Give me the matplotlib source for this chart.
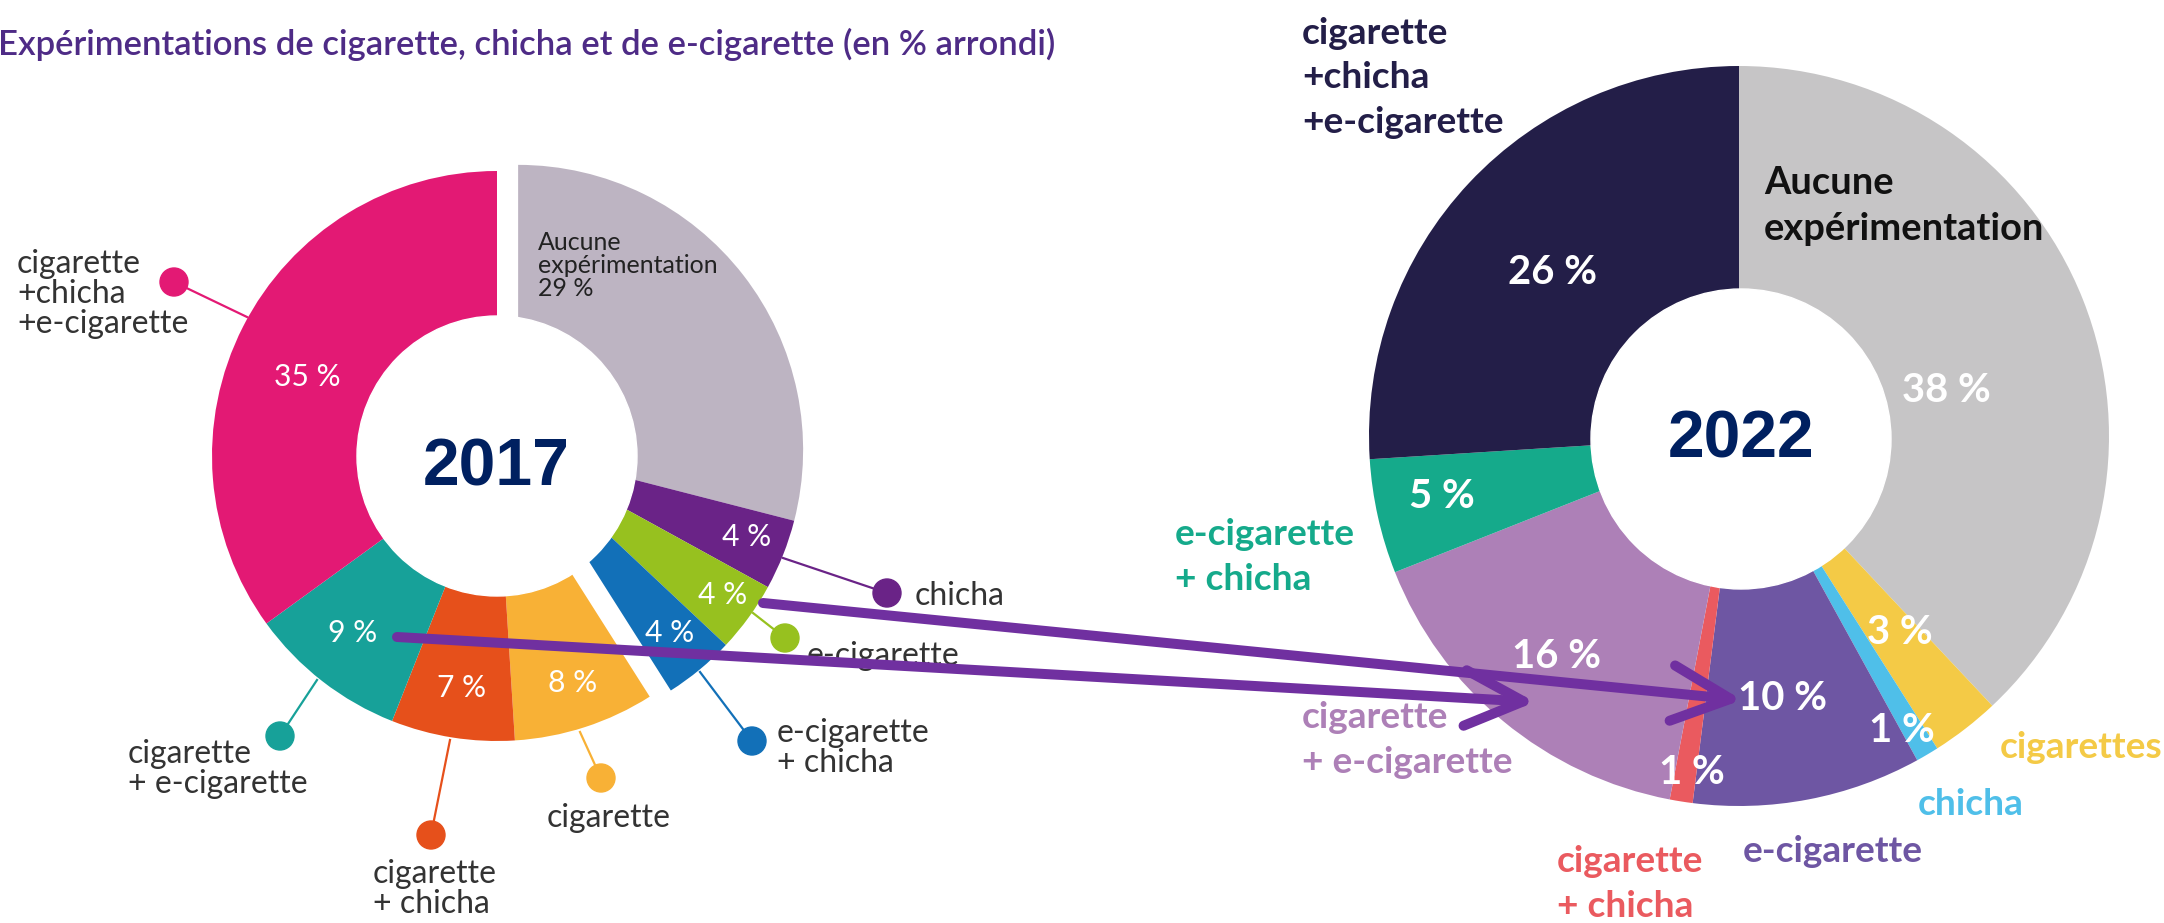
import numpy as np
import matplotlib.pyplot as plt
from matplotlib.patches import Circle, FancyArrowPatch, ArrowStyle

W, H = 2164, 923

# --- données 2017 (sens horaire depuis midi) ---
labels_2017 = ["Aucune\nexpérimentation", "chicha", "e-cigarette", "e-cigarette\n+ chicha",
               "cigarette", "cigarette\n+ chicha", "cigarette\n+ e-cigarette",
               "cigarette\n+chicha\n+e-cigarette"]
vals_2017 = [29, 4, 4, 4, 8, 7, 9, 35]
colors_2017 = ["#bdb4c2", "#6a2387", "#97c11f", "#1270b8",
               "#f8b136", "#e6501b", "#17a199", "#e31974"]

# --- données 2022 ---
labels_2022 = ["Aucune\nexpérimentation", "cigarettes", "chicha", "e-cigarette",
               "cigarette\n+ chicha", "cigarette\n+ e-cigarette", "e-cigarette\n+ chicha",
               "cigarette\n+chicha\n+e-cigarette"]
vals_2022 = [38, 3, 1, 10, 1, 16, 5, 26]
colors_2022 = ["#c6c5c6", "#f4ca46", "#4fbfe9", "#6e56a3",
               "#ea5a5f", "#ad80b7", "#15aa8b", "#231e48"]

title = "Expérimentations de cigarette, chicha et de e-cigarette (en % arrondi)"

F17 = ["Lato", "DejaVu Sans"]
F22 = ["Lato", "DejaVu Sans"]
FYEAR = ["Liberation Sans", "DejaVu Sans"]


def P(x, y):
    # coordonnées image (y vers le bas) -> données
    return (x, H - y)


def pt(px):
    return px * 0.72


# positions (image) -- mise en page ; y des libellés = ligne de base de la dernière ligne
c17, R17, r17 = (497, 456), 285, 140
c22, R22 = (1739, 436), 370
h22, r22 = (1741, 439), 150

pct_pos_2017 = [None, (747, 537), (723, 595), (670, 633), (573, 683),
                (462, 688), (353, 633), (307, 377)]
lead_2017 = [None, ((783, 558), (887, 593)), ((753, 613), (785, 638)),
             ((700, 672), (752, 741)), ((580, 732), (601, 778)),
             ((450, 740), (431, 835)), ((317, 680), (280, 736)),
             ((247, 317), (174, 282))]
lab_pos_2017 = [(538, 296, "left"), (915, 605, "left"), (807, 665, "left"),
                (777, 772, "left"), (609, 827, "center"), (373, 913, "left"),
                (128, 793, "left"), (17, 333, "left")]

pct_pos_2022 = [(1946, 391), (1900, 633), (1902, 730), (1782, 698),
                (1692, 772), (1557, 657), (1442, 497), (1553, 272)]
lab_pos_2022 = [(1764, 240), (2000, 758), (1918, 815), (1743, 862),
                (1557, 917), (1302, 773), (1175, 590), (1302, 133)]

fig = plt.figure(figsize=(W / 100, H / 100), dpi=100)
ax = fig.add_axes([0, 0, 1, 1])

# --- donut 2017 ---
w17, _ = ax.pie(vals_2017, colors=colors_2017, radius=R17, center=P(*c17),
                startangle=90, counterclock=False, wedgeprops=dict(linewidth=0))
grp = 4  # groupe "aucune / chicha / e-cig / e-cig+chicha" détaché
frac = sum(vals_2017[:grp]) / sum(vals_2017)
mid = np.deg2rad(90 - 360 * frac / 2)
for w in w17[:grp]:
    cx, cy = w.center
    w.set_center((cx + 22 * np.cos(mid), cy + 22 * np.sin(mid)))
ax.add_patch(Circle(P(*c17), r17, color="white", zorder=3))

for i, v in enumerate(vals_2017):
    x, y, ha = lab_pos_2017[i]
    if i == 0:
        ax.text(*P(x, y), labels_2017[i] + f"\n{v} %", ha="left", va="baseline",
                fontsize=pt(25), color="#222222", family=F17, linespacing=1.0, zorder=5)
        continue
    (x1, y1), (x2, y2) = lead_2017[i]
    ax.plot([x1, x2], [H - y1, H - y2], color=colors_2017[i], lw=1.6, zorder=4)
    ax.add_patch(Circle(P(x2, y2), 14, color=colors_2017[i], zorder=4))
    ax.text(*P(x, y), labels_2017[i], ha=ha, va="baseline", fontsize=pt(32),
            color="#333333", family=F17, linespacing=1.0, zorder=5)
    ax.text(*P(*pct_pos_2017[i]), f"{v} %", ha="center", va="center",
            fontsize=pt(30), color="white", family=F17, zorder=5)

ax.text(*P(496, 468), "2017", ha="center", va="center", fontsize=pt(66),
        fontweight="bold", color="#002060", family=FYEAR, zorder=6)

# --- donut 2022 ---
ax.pie(vals_2022, colors=colors_2022, radius=R22, center=P(*c22),
       startangle=90, counterclock=False, wedgeprops=dict(linewidth=0))
ax.add_patch(Circle(P(*h22), r22, color="white", zorder=3))

for i, v in enumerate(vals_2022):
    x, y = lab_pos_2022[i]
    col = "#111111" if i == 0 else colors_2022[i]
    size = 38 if i == 0 else 37
    ax.text(*P(x, y), labels_2022[i], ha="left", va="baseline", fontsize=pt(size),
            fontweight="bold", color=col, family=F22, linespacing=1.43, zorder=5)
    ax.text(*P(*pct_pos_2022[i]), f"{v} %", ha="center", va="center",
            fontsize=pt(40), fontweight="bold", color="white", family=F22, zorder=5)

ax.text(*P(1741, 440), "2022", ha="center", va="center", fontsize=pt(66),
        fontweight="bold", color="#002060", family=FYEAR, zorder=6)

# --- titre ---
ax.text(*P(-2, 44), title, ha="left", va="center", fontsize=pt(34.7),
        fontweight="semibold", color="#4e2b86", family=F17, zorder=5)

# --- flèches ---
arrows = [((763, 603), (1742, 700)), ((397, 637), (1535, 702))]
for (a, b) in arrows:
    ax.add_patch(FancyArrowPatch(P(*a), P(*b),
                                 arrowstyle=ArrowStyle("->", head_length=42, head_width=20),
                                 mutation_scale=1, lw=pt(10), color="#7030a0",
                                 shrinkA=0, shrinkB=0, capstyle="round",
                                 joinstyle="round", zorder=8))

ax.set_xlim(0, W)
ax.set_ylim(0, H)
ax.set_aspect("equal")
ax.axis("off")
fig.savefig("out.png", dpi=100)
